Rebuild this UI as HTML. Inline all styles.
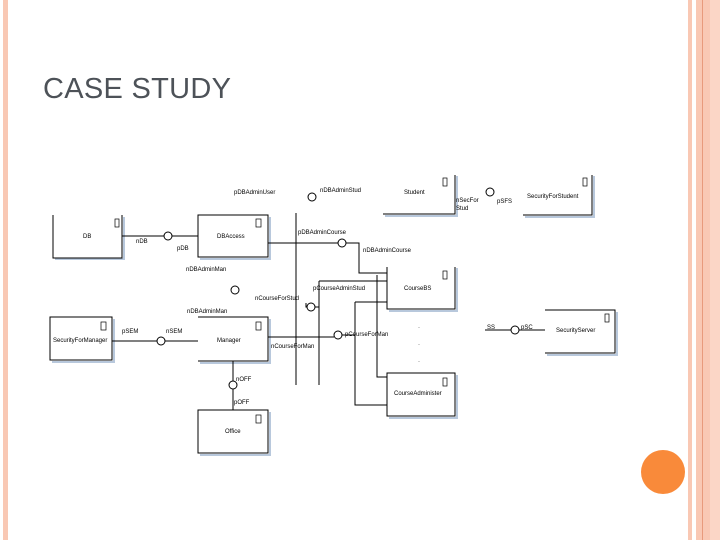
<!DOCTYPE html>
<html><head><style>
body{margin:0;width:720px;height:540px;background:#fff;overflow:hidden;position:relative;font-family:"Liberation Sans",sans-serif}
.t{position:absolute;left:43px;top:73px;font-size:29px;color:#4d5258;letter-spacing:0.3px}
</style></head><body>
<div style="position:absolute;left:3px;top:0;width:5px;height:540px;background:#f9c8b4"></div>
<div style="position:absolute;left:688px;top:0;width:4px;height:540px;background:#f9c8b4"></div>
<div style="position:absolute;left:696px;top:0;width:14px;height:540px;background:#f9c8b4"></div>
<div style="position:absolute;left:702px;top:0;width:1px;height:540px;background:#e89a7c"></div>
<div style="position:absolute;left:710px;top:0;width:10px;height:540px;background:#fbd6c6"></div>
<div style="position:absolute;left:641px;top:450px;width:44px;height:44px;border-radius:50%;background:#f98a3a"></div>
<div class="t">CASE STUDY</div>
<svg width="720" height="540" style="position:absolute;left:0;top:0" font-family="Liberation Sans,sans-serif" font-size="6" fill="#000">
<g fill="none" stroke="#000" stroke-width="1">
<g stroke="#b8c8dc" stroke-width="2">
<path d="M55 259H124V217"/><path d="M200 259H270V217"/><path d="M385 216H457V176"/><path d="M525 217H594V176"/>
<path d="M389 311H457V268"/><path d="M52 362H114V319"/><path d="M200 363H270V319"/><path d="M200 455H270V412"/>
<path d="M389 418H457V375"/><path d="M547 355H617V312"/>
</g>
<path d="M53 215V258H122V215"/>
<rect x="198" y="215" width="70" height="42"/>
<path d="M383 214H455V175"/>
<path d="M523 215H592V175"/>
<path d="M387 267V309H455V267"/>
<rect x="50" y="317" width="62" height="43"/>
<path d="M198 317H268V361H198"/>
<rect x="198" y="410" width="70" height="43"/>
<rect x="387" y="373" width="68" height="43"/>
<path d="M545 310H615V353H545"/>
<path d="M122 236H164M172 236H198"/>
<circle cx="168" cy="236" r="4"/>
<path d="M268 243H338M346 243H359V273H387"/>
<circle cx="342" cy="243" r="4"/>
<path d="M296 213V385"/>
<path d="M319 281H387M319 281V385"/>
<path d="M306 303V307H307M315 307H319"/>
<circle cx="311" cy="307" r="4"/><circle cx="312" cy="197" r="4"/><circle cx="235" cy="290" r="4"/>
<path d="M377 275V377H387"/>
<path d="M355 302H387M355 302V405H387"/>
<path d="M112 341H157M165 341H198"/><circle cx="161" cy="341" r="4"/>
<path d="M268 337H334M342 335H355"/><circle cx="338" cy="335" r="4"/>
<path d="M233 361V381M233 389V410"/><circle cx="233" cy="385" r="4"/>
<path d="M485 330H511M519 330H545"/><circle cx="515" cy="330" r="4"/>
<circle cx="490" cy="192" r="4"/>
</g>
<g fill="none" stroke="#000" stroke-width="0.7">
<rect x="256" y="219" width="5" height="8"/>
<rect x="115" y="219" width="4" height="8"/>
<rect x="256" y="322" width="5" height="8"/>
<rect x="101" y="322" width="5" height="8"/>
<rect x="256" y="415" width="5" height="8"/>
<rect x="443" y="378" width="4" height="8"/>
<rect x="443" y="271" width="4" height="8"/>
<rect x="443" y="178" width="4" height="8"/>
<rect x="583" y="178" width="4" height="8"/>
<rect x="605" y="314" width="4" height="8"/>
</g>
<text x="83" y="238">DB</text><text x="217" y="238">DBAccess</text>
<text x="234" y="194">pDBAdminUser</text><text x="320" y="192">nDBAdminStud</text>
<text x="136" y="243">nDB</text><text x="177" y="250">pDB</text>
<text x="298" y="234">pDBAdminCourse</text><text x="363" y="252">nDBAdminCourse</text>
<text x="186" y="271">nDBAdminMan</text>
<text x="255" y="300">nCourseForStud</text><text x="313" y="290">pCourseAdminStud</text>
<text x="187" y="313">nDBAdminMan</text>
<text x="53" y="342">SecurityForManager</text><text x="122" y="333">pSEM</text><text x="166" y="333">nSEM</text>
<text x="217" y="342">Manager</text><text x="271" y="348">nCourseForMan</text>
<text x="345" y="336">pCourseForMan</text>
<text x="236" y="381">nOFF</text><text x="234" y="404">pOFF</text>
<text x="225" y="433">Office</text>
<text x="404" y="290">CourseBS</text>
<text x="404" y="194">Student</text><text x="456" y="202">nSecFor</text><text x="456" y="210">Stud</text><text x="497" y="203">pSFS</text>
<text x="527" y="198">SecurityForStudent</text>
<text x="394" y="395">CourseAdminister</text>
<text x="487" y="329">SS</text><text x="521" y="329">pSC</text>
<text x="556" y="332">SecurityServer</text>
<text x="418" y="329">·</text><text x="418" y="346">·</text><text x="418" y="363">·</text>
</svg>
</body></html>
